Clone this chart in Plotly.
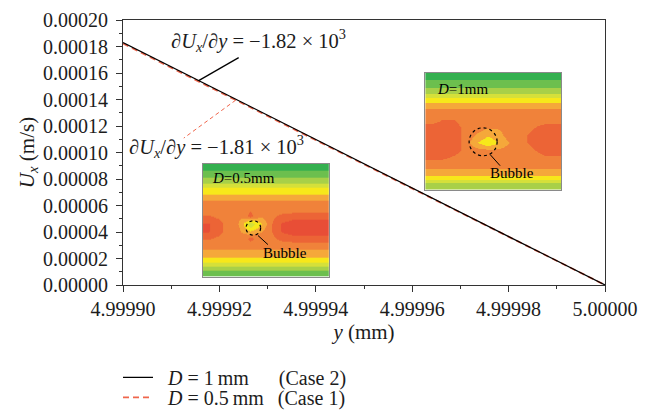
import numpy as np
import plotly.graph_objects as go

# ---- data ----
y_mm = [4.99990, 5.00000]
ux_case2 = [0.000183, 0.0]      # D = 1 mm (Case 2)
ux_case1 = [0.0001822, 0.0]     # D = 0.5 mm (Case 1)
y_ticks = [0.0, 0.00002, 0.00004, 0.00006, 0.00008, 0.00010, 0.00012, 0.00014, 0.00016, 0.00018, 0.00020]
x_ticks = [4.99990, 4.99992, 4.99994, 4.99996, 4.99998, 5.00000]
slope_case2 = "−1.82"
slope_case1 = "−1.81"

# inset contour levels (0 = dark green ... 8 = red), rows top -> bottom
field_d05 = [
    [0.0] * 12,
    [1.0] * 12,
    [2.0] * 12,
    [3.7] * 12,
    [4.6] * 12,
    [5.8] * 12,
    [6.0, 6.0, 6.0, 6.0, 6.4, 6.0, 6.0, 6.0, 6.0, 6.0, 6.0, 6.0],
    [6.6, 6.3, 6.0, 5.6, 6.8, 5.6, 6.2, 6.8, 7.0, 7.0, 7.0, 7.0],
    [7.6, 6.8, 6.0, 5.4, 2.6, 4.4, 6.4, 7.6, 8.0, 8.0, 8.0, 8.0],
    [7.6, 6.8, 6.0, 5.6, 4.6, 5.4, 6.4, 7.6, 8.0, 8.0, 8.0, 8.0],
    [6.6, 6.3, 6.0, 5.8, 6.8, 6.0, 6.2, 6.8, 7.0, 7.0, 7.0, 7.0],
    [6.0] * 12,
    [5.2] * 12,
    [4.2] * 12,
    [2.5] * 12,
    [0.6] * 12,
]
field_d1 = [
    [0.0] * 12,
    [1.0] * 12,
    [2.0] * 12,
    [3.8] * 12,
    [5.0] * 12,
    [6.0] * 12,
    [6.0, 6.6, 6.6, 6.0, 6.0, 6.0, 6.0, 6.0, 6.0, 6.0, 6.0, 6.0],
    [7.0, 7.2, 7.0, 6.2, 6.0, 5.6, 5.6, 6.0, 6.0, 6.4, 7.0, 7.0],
    [7.2, 7.4, 7.0, 6.2, 5.4, 4.6, 5.2, 6.0, 6.2, 6.8, 7.2, 7.2],
    [7.2, 7.4, 7.0, 6.2, 4.6, 3.6, 4.6, 5.6, 6.2, 6.8, 7.2, 7.2],
    [7.0, 7.2, 7.0, 6.2, 5.8, 5.6, 5.6, 6.0, 6.0, 6.4, 7.0, 7.0],
    [6.8, 6.8, 6.4, 6.0, 6.0, 6.0, 6.0, 6.0, 6.0, 6.0, 6.4, 6.4],
    [6.0] * 12,
    [5.2] * 12,
    [4.0] * 12,
    [1.5] * 12,
]
level_colors = ["#34b04f", "#6cbf4e", "#a8d048", "#d5e03a", "#f7e81a",
                "#f5a83a", "#f0823a", "#ec6436", "#e84e36"]

FONT = "Liberation Serif"
RED = "#f0664c"
TXT = "#1c1c1c"

n = len(level_colors)
cscale = []
for k, c in enumerate(level_colors):
    cscale.append([k / n, c])
    cscale.append([(k + 1) / n, c])

fig = go.Figure()

fig.add_trace(go.Scatter(x=y_mm, y=ux_case1, mode="lines", showlegend=True,
                         line=dict(color=RED, width=1.8, dash="6px,4px"), legend="legend2",
                         name="\u2002<i>D</i> = 0.5\u2009mm\u2002\u2009(Case 1)"))
fig.add_trace(go.Scatter(x=y_mm, y=ux_case2, mode="lines", showlegend=True,
                         line=dict(color="black", width=1.2), legend="legend",
                         name="\u2002<i>D</i> = 1\u2009mm\u2003\u2002(Case 2)"))

for fld, ax in [(field_d05, 2), (field_d1, 3)]:
    fig.add_trace(go.Heatmap(z=fld, colorscale=cscale, zmin=-0.5, zmax=n - 0.5,
                             zsmooth="best", showscale=False, hoverinfo="skip",
                             xaxis=f"x{ax}", yaxis=f"y{ax}", showlegend=False))

axis_common = dict(showline=True, linecolor="#333", linewidth=1.2, mirror=True,
                   showgrid=False, zeroline=False, ticks="outside", ticklen=6,
                   tickwidth=1.2, tickcolor="#333",
                   tickfont=dict(family=FONT, size=20, color=TXT))

inset_axis = dict(showticklabels=False, ticks="", showgrid=False, zeroline=False,
                  showline=True, mirror=True, linecolor="#8a8a8a", linewidth=1)

legend_common = dict(xanchor="left", yanchor="middle", visible=True,
                     font=dict(family=FONT, size=20, color=TXT),
                     itemwidth=30, bgcolor="rgba(0,0,0,0)")

fig.update_layout(
    width=651, height=417, showlegend=True,
    margin=dict(l=123, r=46, t=20, b=131.5, autoexpand=False),
    paper_bgcolor="white", plot_bgcolor="white",
    font=dict(family=FONT, size=20, color=TXT),
    xaxis=dict(range=[y_mm[0], y_mm[-1]], tickvals=x_ticks, tickformat=".5f",
               minor=dict(ticks="outside", ticklen=3, dtick=0.00001, tickcolor="#333"),
               title=dict(text="<i>y</i> (mm)", font=dict(family=FONT, size=21, color=TXT), standoff=2),
               **axis_common),
    yaxis=dict(range=[0, 0.0002], tickvals=y_ticks, tickformat=".5f", ticklabelstandoff=4,
               minor=dict(ticks="outside", ticklen=3, dtick=0.00001, tickcolor="#333"),
               title=dict(text="<i>U</i><sub><i>x</i></sub> (m/s)", font=dict(family=FONT, size=21, color=TXT), standoff=2),
               **axis_common),
    xaxis2=dict(domain=[0.166, 0.427], anchor="y2", range=[-0.5, 11.5], **inset_axis),
    yaxis2=dict(domain=[0.032, 0.458], anchor="x2", range=[15.5, -0.5], **inset_axis),
    xaxis3=dict(domain=[0.627, 0.909], anchor="y3", range=[-0.5, 11.5], **inset_axis),
    yaxis3=dict(domain=[0.36, 0.80], anchor="x3", range=[15.5, -0.5], **inset_axis),
    legend=dict(x=(118 - 123) / 482, y=(285.5 - 378) / 265.5, **legend_common),
    legend2=dict(x=(118 - 123) / 482, y=(285.5 - 398) / 265.5, **legend_common),
)

# slope annotations with leader lines anchored on the lines
xa2 = 4.9999157
ya2 = float(np.interp(xa2, y_mm, ux_case2))
xa1 = 4.9999234
ya1 = float(np.interp(xa1, y_mm, ux_case1))

fig.add_shape(type="line", xref="x", yref="y", xsizemode="pixel", ysizemode="pixel",
              xanchor=xa2, yanchor=ya2, x0=0, y0=0, x1=40, y1=23,
              line=dict(color="black", width=1.3))
fig.add_shape(type="line", xref="x", yref="y", xsizemode="pixel", ysizemode="pixel",
              xanchor=xa1, yanchor=ya1, x0=0, y0=0, x1=-52, y1=-38,
              line=dict(color=RED, width=1, dash="4px,3px"))

fig.add_annotation(xref="paper", yref="paper", x=(258 - 123) / 482, y=(285.5 - 41) / 265.5,
                   xanchor="center", yanchor="middle",
                   text=f"∂<i>U</i><sub><i>x</i></sub>/∂<i>y</i> = {slope_case2} × 10<sup>3</sup>",
                   showarrow=False, font=dict(family=FONT, size=20.5, color=TXT))
fig.add_annotation(xref="paper", yref="paper", x=(216 - 123) / 482, y=(285.5 - 147) / 265.5,
                   xanchor="center", yanchor="middle",
                   text=f"∂<i>U</i><sub><i>x</i></sub>/∂<i>y</i> = {slope_case1} × 10<sup>3</sup>",
                   showarrow=False, font=dict(family=FONT, size=20.5, color=TXT))

# inset decorations
insets = [
    dict(ax="2", label="<i>D</i>=0.5mm", lx=0.056, ly=0.876,
         cx=0.40, cy=0.43, rx=0.058, ry=0.064,
         l0=(0.437, 0.363), l1=(0.516, 0.283), bx=0.651, by=0.212),
    dict(ax="3", label="<i>D</i>=1mm", lx=0.074, ly=0.863,
         cx=0.426, cy=0.41, rx=0.103, ry=0.12,
         l0=(0.478, 0.30), l1=(0.551, 0.205), bx=0.64, by=0.145),
]
for d in insets:
    xr, yr = f"x{d['ax']} domain", f"y{d['ax']} domain"
    fig.add_annotation(xref=xr, yref=yr, x=d["lx"], y=d["ly"],
                       xanchor="left", yanchor="middle",
                       text=d["label"], showarrow=False,
                       font=dict(family=FONT, size=15, color="black"))
    fig.add_annotation(xref=xr, yref=yr, x=d["bx"], y=d["by"],
                       xanchor="center", yanchor="middle",
                       text="Bubble", showarrow=False,
                       font=dict(family=FONT, size=15, color="black"))
    fig.add_shape(type="circle", xref=xr, yref=yr,
                  x0=d["cx"] - d["rx"], x1=d["cx"] + d["rx"],
                  y0=d["cy"] - d["ry"], y1=d["cy"] + d["ry"],
                  line=dict(color="black", width=1.2, dash="dot"))
    fig.add_shape(type="line", xref=xr, yref=yr,
                  x0=d["l0"][0], y0=d["l0"][1], x1=d["l1"][0], y1=d["l1"][1],
                  line=dict(color="black", width=1))

fig.write_html("out.html")
